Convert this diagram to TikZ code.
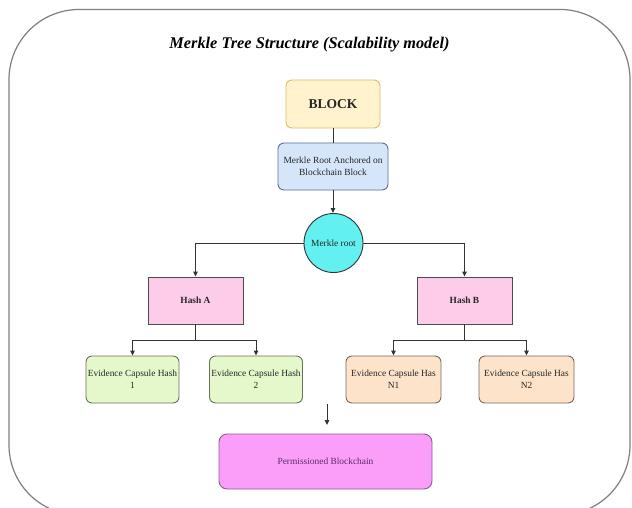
\documentclass[tikz,border=0pt]{standalone}
\usepackage{fontspec}
\setmainfont{Liberation Serif}
\usetikzlibrary{arrows.meta,positioning}
\definecolor{blkfill}{HTML}{FFF2CC}
\definecolor{blkline}{HTML}{D9BE70}
\definecolor{bluefill}{HTML}{D6E6FA}
\definecolor{blueline}{HTML}{5E7290}
\definecolor{cyanfill}{HTML}{62F0F0}
\definecolor{pinkfill}{HTML}{FDCCE8}
\definecolor{greenfill}{HTML}{E4F8CC}
\definecolor{greenline}{HTML}{66735A}
\definecolor{orangefill}{HTML}{FDE3CA}
\definecolor{orangeline}{HTML}{7A6B5E}
\definecolor{magfill}{HTML}{FA9EFA}
\definecolor{magline}{HTML}{8A5A94}
\definecolor{magtext}{HTML}{5A2A68}
\definecolor{frameline}{HTML}{808080}
\definecolor{conn}{HTML}{333333}
\tikzset{
  smalltext/.style={font=\fontsize{9.4}{11.7}\selectfont, text=black!85, align=center},
  boxbase/.style={draw, line width=0.9pt, inner sep=0pt, smalltext},
  blockbox/.style={boxbase, draw=blkline, fill=blkfill, rounded corners=6pt, minimum width=94pt, minimum height=48pt, font=\fontsize{13.5}{16}\selectfont\bfseries},
  bluebox/.style={boxbase, draw=blueline, fill=bluefill, rounded corners=6pt, minimum width=110pt, minimum height=47pt},
  rootcircle/.style={boxbase, circle, draw=conn, fill=cyanfill, minimum size=59pt},
  hashbox/.style={boxbase, draw=black!70, fill=pinkfill, minimum width=95pt, minimum height=47pt, font=\fontsize{9.4}{11.7}\selectfont\bfseries},
  greenbox/.style={boxbase, draw=greenline, fill=greenfill, rounded corners=6pt, minimum width=93pt, minimum height=47pt},
  orangebox/.style={boxbase, draw=orangeline, fill=orangefill, rounded corners=6pt, minimum width=95pt, minimum height=47pt},
  chainbox/.style={boxbase, draw=magline, fill=magfill, rounded corners=8pt, minimum width=213pt, minimum height=55pt, text=magtext},
  conline/.style={draw=conn, line width=0.9pt},
  conarrow/.style={conline, -{Triangle[length=5pt,width=4.5pt]}},
}
\begin{document}
\begin{tikzpicture}[x=1pt,y=-1pt]
\useasboundingbox (0,0) rectangle (632,508);
\fill[white] (0,0) rectangle (632,508);
% outer frame
\draw[frameline, line width=1.2pt, rounded corners=70pt] (9,9.5) rectangle (630,515);
% title
\node (title) at (309.5,45) {\fontsize{16.3}{18}\selectfont\bfseries\itshape Merkle Tree Structure (Scalability model)};
% nodes
\node[blockbox] (block) at (333,104) {BLOCK};
\node[bluebox] (anchor) at (333,166.5) {Merkle Root Anchored on\\Blockchain Block};
\node[rootcircle] (root) at (333.5,243) {Merkle root};
\node[hashbox] (hasha) at (195.5,300.5) {Hash A};
\node[hashbox] (hashb) at (464.5,300.5) {Hash B};
\node[greenbox] (ev1) at (132.5,379.5) {Evidence Capsule Hash\\1};
\node[greenbox] (ev2) at (256,379.5) {Evidence Capsule Hash\\2};
\node[orangebox] (evn1) at (393.5,379.5) {Evidence Capsule Has\\N1};
\node[orangebox] (evn2) at (526.5,379.5) {Evidence Capsule Has\\N2};
\node[chainbox] (chain) at (325.5,461.5) {Permissioned Blockchain};
\coordinate (arrstart) at (327,404);
\coordinate (arrend) at (327,425);
% connectors
\draw[conline] (block.south) -- (block.south |- anchor.north);
\draw[conarrow] (anchor.south) -- (anchor.south |- root.north);
\draw[conarrow] (root.west) -| (hasha.north);
\draw[conarrow] (root.east) -| (hashb.north);
\draw[conarrow] (hasha.south) -- ++(0,16) -| (ev1.north);
\draw[conarrow] (hasha.south) -- ++(0,16) -| (ev2.north);
\draw[conarrow] (hashb.south) -- ++(0,16) -| (evn1.north);
\draw[conarrow] (hashb.south) -- ++(0,16) -| (evn2.north);
\draw[conarrow] (arrstart) -- (arrend);
\end{tikzpicture}
\end{document}
